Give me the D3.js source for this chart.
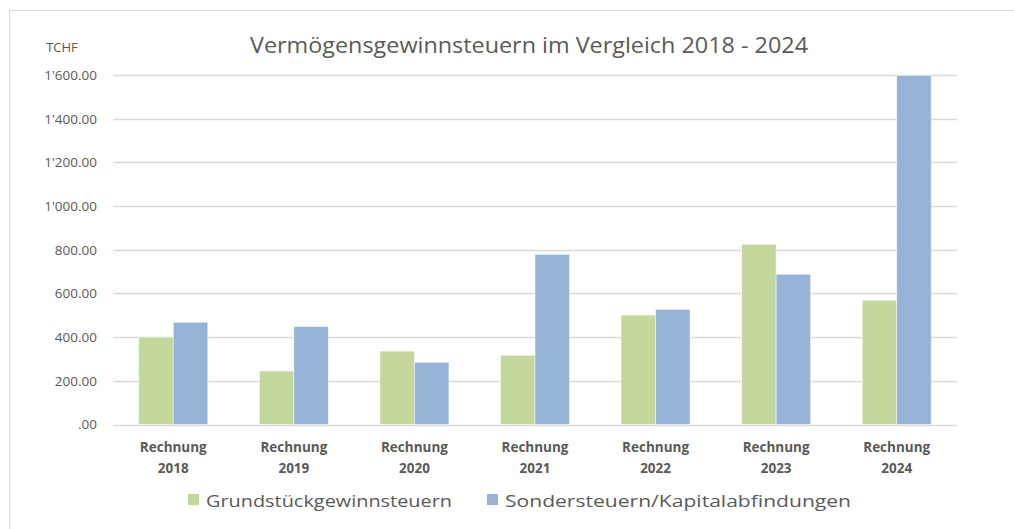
<!DOCTYPE html>
<html>
<head>
<meta charset="utf-8">
<script src="https://cdn.jsdelivr.net/npm/d3@7"></script>
<style>
  body { margin: 0; background: #fff; }
  text { font-family: "Open Sans", "Liberation Sans", sans-serif; fill: #595959; }
</style>
</head>
<body>
<div id="chart"></div>
<script>
const categories = ["2018", "2019", "2020", "2021", "2022", "2023", "2024"];
const seriesNames = ["Grundstückgewinnsteuern", "Sondersteuern/Kapitalabfindungen"];
const grundstueck = [400, 245, 336, 317, 501, 825, 569];
const sondersteuern = [468, 448, 285, 779, 527, 688, 1598];
const yTicks = [0, 200, 400, 600, 800, 1000, 1200, 1400, 1600];
const yTickLabels = [".00", "200.00", "400.00", "600.00", "800.00", "1'000.00", "1'200.00", "1'400.00", "1'600.00"];
const colors = ["#c3d69b", "#95b3d7"];

const width = 1014, height = 529;
const plotLeft = 113, plotRight = 957, plotTop = 75, plotBottom = 424.5;

const svg = d3.select("#chart").append("svg")
  .attr("width", width)
  .attr("height", height);

// chart frame (only top and left edges are visible in the crop)
svg.append("path")
  .attr("d", `M9.5,${height} V10.5 H${width}`)
  .attr("fill", "none")
  .attr("stroke", "#d9d9d9");

const x = d3.scaleBand()
  .domain(categories)
  .range([plotLeft, plotRight])
  .paddingInner(0.428)
  .paddingOuter(0.214);

const xInner = d3.scaleBand()
  .domain(seriesNames)
  .range([0, x.bandwidth()]);

const y = d3.scaleLinear()
  .domain([0, 1600])
  .range([plotBottom, plotTop]);

// gridlines
svg.append("g")
  .selectAll("line")
  .data(yTicks)
  .join("line")
  .attr("x1", plotLeft)
  .attr("x2", plotRight)
  .attr("y1", d => Math.round(y(d)) + 0.5)
  .attr("y2", d => Math.round(y(d)) + 0.5)
  .attr("stroke", "#d9d9d9")
  .attr("stroke-width", 1.3);

// y axis labels
const yAxis = d3.axisLeft(y)
  .tickValues(yTicks)
  .tickSize(0)
  .tickPadding(0)
  .tickFormat((d, i) => yTickLabels[i]);

const yg = svg.append("g")
  .attr("transform", `translate(97,0)`)
  .call(yAxis);
yg.select(".domain").remove();
yg.selectAll("text")
  .attr("font-size", 13.5)
  .attr("font-family", "Open Sans, sans-serif")
  .attr("fill", "#595959");

svg.append("text")
  .attr("x", 62)
  .attr("y", 52)
  .attr("text-anchor", "middle")
  .attr("font-size", 13)
  .text("TCHF");

// bars
const rows = categories.map((c, i) => ({ cat: c, values: [grundstueck[i], sondersteuern[i]] }));

const groups = svg.append("g")
  .selectAll("g")
  .data(rows)
  .join("g")
  .attr("transform", d => `translate(${x(d.cat)},0)`);

groups.selectAll("rect")
  .data(d => d.values.map((v, j) => ({ name: seriesNames[j], value: v, j })))
  .join("rect")
  .attr("x", d => xInner(d.name))
  .attr("width", xInner.bandwidth())
  .attr("y", d => y(d.value))
  .attr("height", d => y(0) - y(d.value))
  .attr("fill", d => colors[d.j])
  .attr("stroke", "#ffffff")
  .attr("stroke-opacity", 0.6)
  .attr("stroke-width", 0.8);

// x axis labels
const xLabels = svg.append("g")
  .selectAll("text")
  .data(categories)
  .join("text")
  .attr("x", d => x(d) + x.bandwidth() / 2)
  .attr("text-anchor", "middle")
  .attr("font-size", 13.5)
  .attr("font-weight", "bold");
xLabels.append("tspan")
  .attr("x", d => x(d) + x.bandwidth() / 2)
  .attr("y", 452)
  .text("Rechnung");
xLabels.append("tspan")
  .attr("x", d => x(d) + x.bandwidth() / 2)
  .attr("y", 473)
  .text(d => d);

// title
svg.append("text")
  .attr("x", 529)
  .attr("y", 53)
  .attr("text-anchor", "middle")
  .attr("font-size", 22)
  .attr("textLength", 558)
  .attr("lengthAdjust", "spacingAndGlyphs")
  .text("Vermögensgewinnsteuern im Vergleich 2018 - 2024");

// legend
const legendPos = [{ sx: 188, tx: 206, w: 246 }, { sx: 487, tx: 505, w: 346 }];
const legend = svg.append("g")
  .selectAll("g")
  .data(seriesNames)
  .join("g");
legend.append("rect")
  .attr("x", (d, i) => legendPos[i].sx)
  .attr("y", 494)
  .attr("width", 11)
  .attr("height", 11)
  .attr("fill", (d, i) => colors[i]);
legend.append("text")
  .attr("x", (d, i) => legendPos[i].tx)
  .attr("y", 507)
  .attr("font-size", 17)
  .attr("textLength", (d, i) => legendPos[i].w)
  .attr("lengthAdjust", "spacingAndGlyphs")
  .text(d => d);
</script>
</body>
</html>
